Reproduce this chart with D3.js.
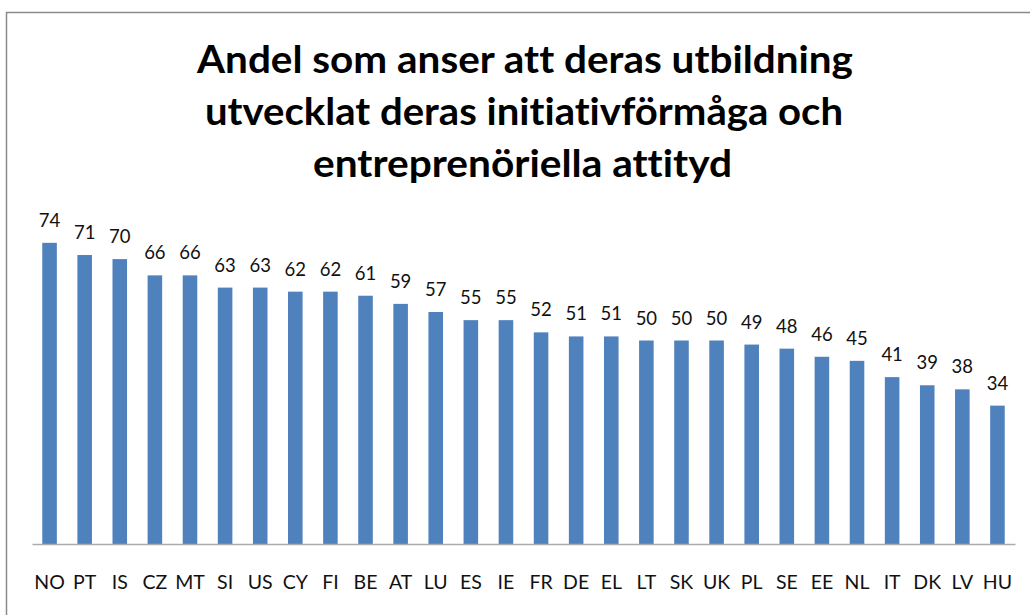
<!DOCTYPE html>
<html>
<head>
<meta charset="utf-8">
<script src="https://cdn.jsdelivr.net/npm/d3@7"></script>
<style>
  html, body { margin: 0; padding: 0; background: #fff; }
  svg { display: block; }
  text { font-variant-ligatures: none; font-feature-settings: "liga" 0, "clig" 0; }
</style>
</head>
<body>
<svg id="chart" width="1030" height="615"></svg>
<script>
const titleLines = [
  "Andel som anser att deras utbildning",
  "utvecklat deras initiativförmåga och",
  "entreprenöriella attityd"
];
const categories = ["NO","PT","IS","CZ","MT","SI","US","CY","FI","BE","AT","LU","ES","IE","FR","DE","EL","LT","SK","UK","PL","SE","EE","NL","IT","DK","LV","HU"];
const values = [74,71,70,66,66,63,63,62,62,61,59,57,55,55,52,51,51,50,50,50,49,48,46,45,41,39,38,34];

const svg = d3.select("#chart");

// chart border (extends past the picture on the right and bottom)
svg.append("rect")
  .attr("x", 6.5).attr("y", 12.5)
  .attr("width", 1200).attr("height", 800)
  .attr("fill", "#fff")
  .attr("stroke", "#8a8a8a")
  .attr("stroke-width", 1.5);

// title
const titleWidths = [656, 638, 419];
const titleCenters = [525, 524, 522.5];
const titleBase = [73, 125, 177];
svg.append("g").selectAll("text")
  .data(titleLines)
  .join("text")
  .attr("x", (d, i) => titleCenters[i])
  .attr("y", (d, i) => titleBase[i])
  .attr("text-anchor", "middle")
  .attr("textLength", (d, i) => titleWidths[i])
  .attr("lengthAdjust", "spacingAndGlyphs")
  .style("font-family", "Lato, 'Open Sans', sans-serif")
  .style("font-weight", "bold")
  .style("font-size", "38.5px")
  .style("fill", "#000")
  .text(d => d);

// scales
const x = d3.scaleBand()
  .domain(categories)
  .range([32, 1015])
  .paddingInner(0.585)
  .paddingOuter(0.2925);

const y = d3.scaleLinear()
  .domain([0, 80])
  .range([544, 218.4]);

const data = categories.map((c, i) => ({ c, v: values[i] }));

// bars
svg.append("g").selectAll("rect")
  .data(data)
  .join("rect")
  .attr("x", d => x(d.c))
  .attr("y", d => y(d.v))
  .attr("width", x.bandwidth())
  .attr("height", d => y(0) - y(d.v))
  .attr("fill", "#4f81bd");

// value labels
svg.append("g").selectAll("text")
  .data(data)
  .join("text")
  .attr("x", d => x(d.c) + x.bandwidth() / 2)
  .attr("y", d => y(d.v) - 16)
  .attr("text-anchor", "middle")
  .style("font-family", "Lato, 'Open Sans', sans-serif")
  .style("font-size", "18.5px")
  .style("fill", "#111")
  .text(d => d.v);

// x axis
const xAxis = d3.axisBottom(x).tickSize(0).tickPadding(0);
const gx = svg.append("g")
  .attr("transform", `translate(0, ${y(0)})`)
  .call(xAxis);
gx.select(".domain")
  .attr("stroke", "#ababab")
  .attr("stroke-width", 1.5);
gx.selectAll(".tick text")
  .attr("y", 45)
  .attr("dy", 0)
  .style("font-family", "Lato, 'Open Sans', sans-serif")
  .style("font-size", "19.5px")
  .style("fill", "#111");
</script>
</body>
</html>
